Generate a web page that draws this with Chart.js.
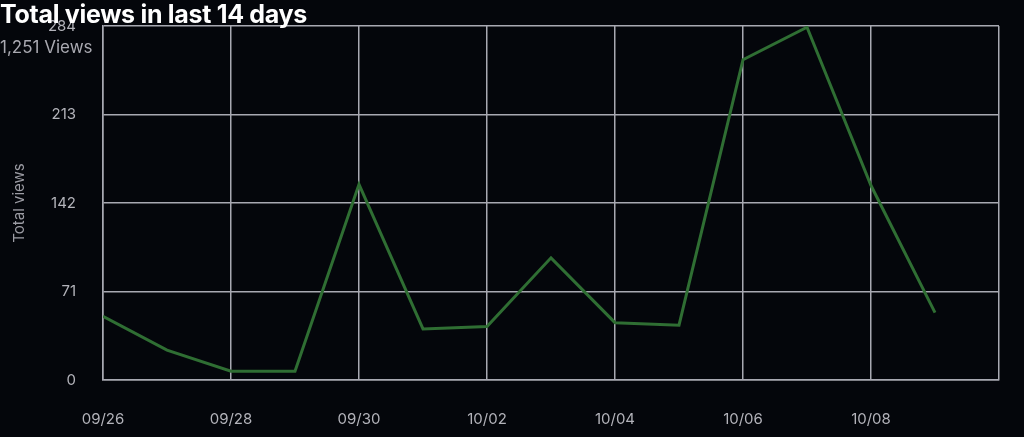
<!DOCTYPE html>
<html>
<head>
<meta charset="utf-8">
<script src="https://cdn.jsdelivr.net/npm/chart.js@4"></script>
<style>
  html,body{margin:0;padding:0;background:#04060b;}
  #wrap{position:relative;width:1024px;height:437px;}
  #title{position:absolute;left:0;top:-1px;color:#fff;font:700 25px Inter,Roboto,sans-serif;letter-spacing:-0.3px;z-index:2}
  #sub{position:absolute;left:0;top:37px;color:#a9a9b1;font:17px Inter,Roboto,sans-serif;z-index:2}
</style>
</head>
<body>
<div id="wrap">
  <div id="title">Total views in last 14 days</div>
  <div id="sub">1,251 Views</div>
  <canvas id="chart" width="1024" height="437"></canvas>
</div>
<script>
// last 14 days, plus the trailing day that only closes the grid
const days = ['09/26','09/27','09/28','09/29','09/30','10/01','10/02','10/03','10/04','10/05','10/06','10/07','10/08','10/09','10/10'];
const views = [51, 24, 7, 7, 157, 41, 43, 98, 46, 44, 257, 283, 156, 54];
const yTicks = [0, 71, 142, 213, 284];

const gridCol = '#a8a9b2';
const tickCol = '#b3b3ba';
Chart.defaults.font.family = 'Inter, Roboto, sans-serif';

new Chart(document.getElementById('chart'), {
  type: 'line',
  data: {
    datasets: [{
      label: 'Total views',
      data: views.map((v, i) => ({ x: i, y: v })),
      borderColor: '#2f6e33',
      borderWidth: 3,
      pointRadius: 0,
      tension: 0,
      fill: false
    }]
  },
  options: {
    responsive: false,
    animation: false,
    layout: { padding: { left: 0, right: 25, top: 26, bottom: 0 } },
    plugins: { legend: { display: false }, tooltip: { enabled: false } },
    scales: {
      x: {
        type: 'linear',
        min: 0, max: days.length - 1,
        afterBuildTicks: s => { s.ticks = days.map((d, i) => ({ value: i })).filter(t => t.value % 2 === 0); },
        afterFit: s => { s.height = 57; },
        ticks: {
          color: tickCol, font: { size: 15 }, padding: 3, maxRotation: 0,
          callback: v => (v < views.length ? days[v] : '')
        },
        // long invisible tick marks push the labels down without adding side padding
        grid: { color: gridCol, lineWidth: 1.5, drawTicks: true, tickLength: 27, tickColor: 'transparent' },
        border: { color: gridCol, width: 1.5 }
      },
      y: {
        min: yTicks[0], max: yTicks[yTicks.length - 1],
        afterBuildTicks: s => { s.ticks = yTicks.map(v => ({ value: v })); },
        afterFit: s => { s.width = 103; },
        ticks: { color: tickCol, font: { size: 15 }, padding: 3 },
        grid: { color: gridCol, lineWidth: 1.5, drawTicks: true, tickLength: 24, tickColor: 'transparent' },
        border: { color: gridCol, width: 1.5 },
        title: { display: true, text: 'Total views', color: '#9c9ca4', font: { size: 15 }, padding: { top: 10, bottom: 0 } }
      }
    }
  }
});
</script>
</body>
</html>
